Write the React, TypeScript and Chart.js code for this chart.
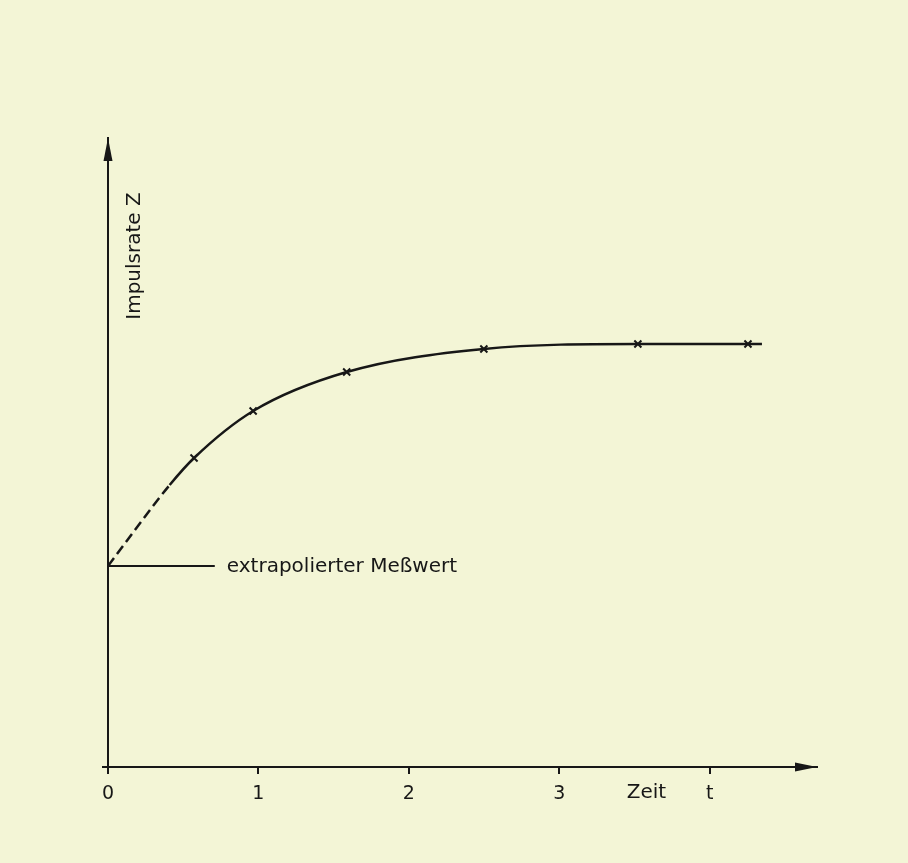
import React, { useEffect, useRef } from "react";
import { Chart, registerables } from "chart.js";

Chart.register(...registerables);

// ---- data ----
const curveT = [0, 0.41, 0.572, 0.965, 1.587, 2.499, 3.523, 4.255, 4.348];
const curveZ = [4.02, 5.64, 6.18, 7.12, 7.9, 8.36, 8.46, 8.46, 8.46];
const curveMarked = [false, false, true, true, true, true, true, true, false];
const extrapolatedZ = 4.02;
const leaderT = [0, 0.71];
const xTickValues = [0, 1, 2, 3, 4];
const xTickLabels = ["0", "1", "2", "3", "t"];
const xAxisMax = 4.714;
const yAxisMax = 12.58;
const xAxisTitle = "Zeit";
const xAxisTitleT = 3.58;
const yAxisTitle = "Impulsrate Z";
const yAxisTitleZ = 10.22;
const annotationText = "extrapolierter Meßwert";

const INK = "#171717";
const PAPER = "#f3f5d6";
const FONT = "'DejaVu Sans', 'Liberation Sans', sans-serif";

const overlay = {
  id: "overlay",
  beforeDraw(chart: any) {
    const { ctx } = chart;
    ctx.save();
    ctx.fillStyle = PAPER;
    ctx.fillRect(0, 0, chart.width, chart.height);
    ctx.restore();
  },
  afterDraw(chart: any) {
    const { ctx, scales } = chart;
    const x = scales.x;
    const y = scales.y;
    const x0 = x.getPixelForValue(0);
    const y0 = y.getPixelForValue(0);
    const xEnd = x.getPixelForValue(xAxisMax);
    const yEnd = y.getPixelForValue(yAxisMax);
    ctx.save();
    ctx.strokeStyle = INK;
    ctx.fillStyle = INK;
    ctx.lineWidth = 2;
    // x axis slight overshoot left of origin
    ctx.beginPath();
    ctx.moveTo(x0 - 6, y0);
    ctx.lineTo(x0, y0);
    ctx.stroke();
    // x arrow head
    ctx.beginPath();
    ctx.moveTo(xEnd, y0);
    ctx.lineTo(xEnd - 22, y0 - 4.5);
    ctx.lineTo(xEnd - 22, y0 + 4.5);
    ctx.closePath();
    ctx.fill();
    // y arrow head
    ctx.beginPath();
    ctx.moveTo(x0, yEnd);
    ctx.lineTo(x0 - 4.5, yEnd + 23);
    ctx.lineTo(x0 + 4.5, yEnd + 23);
    ctx.closePath();
    ctx.fill();

    // axis titles and annotation
    ctx.font = `20px ${FONT}`;
    ctx.textBaseline = "middle";
    ctx.textAlign = "center";
    ctx.fillText(xAxisTitle, x.getPixelForValue(xAxisTitleT), y0 + 26);

    ctx.textAlign = "left";
    ctx.fillText(
      annotationText,
      x.getPixelForValue(leaderT[1]) + 12,
      y.getPixelForValue(extrapolatedZ) + 1
    );

    ctx.save();
    ctx.translate(x0 + 27, y.getPixelForValue(yAxisTitleZ));
    ctx.rotate(-Math.PI / 2);
    ctx.textAlign = "center";
    ctx.fillText(yAxisTitle, 0, 0);
    ctx.restore();

    ctx.restore();
  },
};

export default function App() {
  const ref = useRef<HTMLCanvasElement | null>(null);

  useEffect(() => {
    if (!ref.current) return;
    const chart = new Chart(ref.current, {
      type: "line",
      data: {
        datasets: [
          {
            data: curveT.map((t, i) => ({ x: t, y: curveZ[i] })),
            borderColor: INK,
            borderWidth: 2.5,
            cubicInterpolationMode: "monotone",
            pointStyle: "crossRot",
            pointRadius: curveMarked.map((m) => (m ? 5 : 0)),
            pointBorderWidth: 2,
            pointBorderColor: INK,
            pointBackgroundColor: INK,
            segment: {
              borderDash: (c: any) => (c.p0DataIndex === 0 ? [10, 5] : undefined),
            },
          } as any,
          {
            data: leaderT.map((t) => ({ x: t, y: extrapolatedZ })),
            borderColor: INK,
            borderWidth: 2,
            pointRadius: 0,
          },
        ],
      },
      options: {
        responsive: false,
        animation: false,
        events: [],
        layout: { padding: { left: 108, top: 138, right: 91, bottom: 46 } },
        plugins: { legend: { display: false }, tooltip: { enabled: false } },
        scales: {
          x: {
            type: "linear",
            min: 0,
            max: xAxisMax,
            afterBuildTicks: (s: any) => {
              s.ticks = xTickValues.map((v) => ({ value: v }));
            },
            afterFit: (s: any) => {
              s.height = 50;
            },
            ticks: {
              autoSkip: false,
              maxRotation: 0,
              padding: 9,
              color: INK,
              font: { family: FONT, size: 19 },
              callback: (v: any) => {
                const i = xTickValues.indexOf(Number(v));
                return i >= 0 ? xTickLabels[i] : "";
              },
            },
            grid: {
              display: true,
              drawOnChartArea: false,
              drawTicks: true,
              tickLength: 7,
              color: INK,
              lineWidth: 2,
            },
            border: { display: true, color: INK, width: 2 },
          },
          y: {
            type: "linear",
            min: 0,
            max: yAxisMax,
            afterFit: (s: any) => {
              s.width = 0;
            },
            ticks: { display: false },
            grid: { display: false },
            border: { display: true, color: INK, width: 2 },
          },
        },
      } as any,
      plugins: [overlay],
    });
    return () => chart.destroy();
  }, []);

  return (
    <canvas
      ref={ref}
      width={908}
      height={863}
      style={{ position: "fixed", left: 0, top: 0, display: "block" }}
    />
  );
}
